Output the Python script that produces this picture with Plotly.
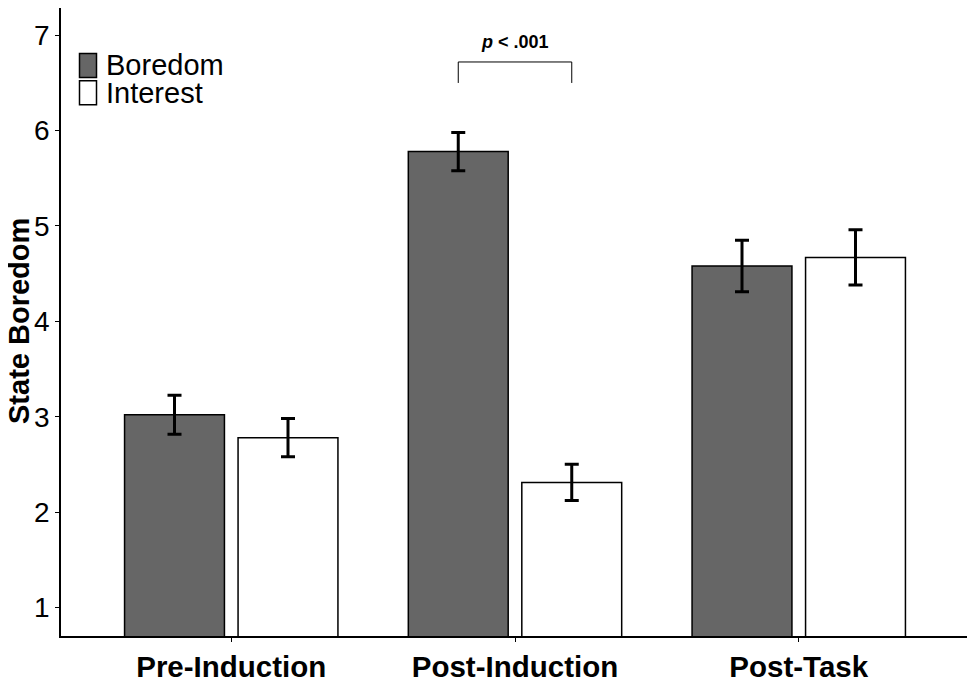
import plotly.graph_objects as go

categories = ["Pre-Induction", "Post-Induction", "Post-Task"]
boredom_mean = [3.02, 5.78, 4.58]
boredom_se = [0.205, 0.20, 0.27]
interest_mean = [2.78, 2.31, 4.67]
interest_se = [0.20, 0.19, 0.29]
y_ticks = [1, 2, 3, 4, 5, 6, 7]
bracket_y = [6.50, 6.72]
p_label = "<i>p</i> < .001"

FONT = "Liberation Sans, Arial, sans-serif"
OFF = 8  # page body margin
W, H = 975 - OFF, 686 - OFF
L, R, T, B = 61 - OFF, 6, 0, 50
PW, PH = W - L - R, H - T - B


def px_x(page_x):
    return (page_x - OFF - L) / PW


def px_y(page_y):
    return 1 - (page_y - OFF - T) / PH


fig = go.Figure()
fig.add_trace(go.Bar(
    name="Boredom", x=categories, y=boredom_mean,
    marker=dict(color="#666666", line=dict(color="black", width=1.5)),
    error_y=dict(type="data", array=boredom_se, color="black", thickness=3, width=7),
    showlegend=False,
))
fig.add_trace(go.Bar(
    name="Interest", x=categories, y=interest_mean,
    marker=dict(color="white", line=dict(color="black", width=1.5)),
    error_y=dict(type="data", array=interest_se, color="black", thickness=3, width=7),
    showlegend=False,
))

# significance bracket between the two Post-Induction bars
xl, xr = 1 - 0.2, 1 + 0.2
fig.add_shape(type="path", xref="x", yref="y",
              path=f"M {xl},{bracket_y[0]} L {xl},{bracket_y[1]} L {xr},{bracket_y[1]} L {xr},{bracket_y[0]}",
              line=dict(color="black", width=1))
fig.add_annotation(x=1, y=bracket_y[1], xref="x", yref="y", text=f"<b>{p_label}</b>",
                   showarrow=False, yanchor="bottom", yshift=8,
                   font=dict(family=FONT, size=18, color="black"))

# legend drawn manually (large keys like the reference)
legend_items = [("Boredom", "#666666"), ("Interest", "white")]
for i, (name, col) in enumerate(legend_items):
    top_px = 53.5 + i * 27.3
    bot_px = top_px + 24
    fig.add_shape(type="rect", xref="paper", yref="paper",
                  x0=px_x(79.5), x1=px_x(96.5), y0=px_y(bot_px), y1=px_y(top_px),
                  fillcolor=col, line=dict(color="black", width=1.5))
    fig.add_annotation(xref="paper", yref="paper", x=px_x(104), y=px_y((top_px + bot_px) / 2),
                       text=name, showarrow=False, xanchor="left", yanchor="middle",
                       font=dict(family=FONT, size=29, color="black"))

# y-axis title
fig.add_annotation(xref="paper", yref="paper", x=px_x(19), y=px_y(321),
                   text="<b>State Boredom</b>", textangle=-90, showarrow=False,
                   xanchor="center", yanchor="middle",
                   font=dict(family=FONT, size=29, color="black"))

fig.update_layout(
    width=W, height=H,
    margin=dict(l=L, r=R, t=T, b=B),
    plot_bgcolor="white", paper_bgcolor="white",
    barmode="group", bargap=0.2, bargroupgap=0.12,
    font=dict(family=FONT, color="black"),
    xaxis=dict(
        range=[-0.6, 2.6], showline=True, linecolor="black", linewidth=1.5,
        ticks="outside", ticklen=4, tickcolor="black", tickwidth=1,
        tickfont=dict(family=FONT, size=29.5, color="black"),
        tickvals=categories, ticktext=[f"<b>{c}</b>" for c in categories],
        showgrid=False, zeroline=False, automargin=False,
    ),
    yaxis=dict(
        range=[0.7, 7.286], showline=True, linecolor="black", linewidth=1.5,
        ticks="outside", ticklen=4, tickcolor="black", tickwidth=1,
        tickvals=y_ticks, tickfont=dict(family=FONT, size=28, color="black"),
        showgrid=False, zeroline=False, automargin=False,
    ),
)

fig.write_html("out.html")
